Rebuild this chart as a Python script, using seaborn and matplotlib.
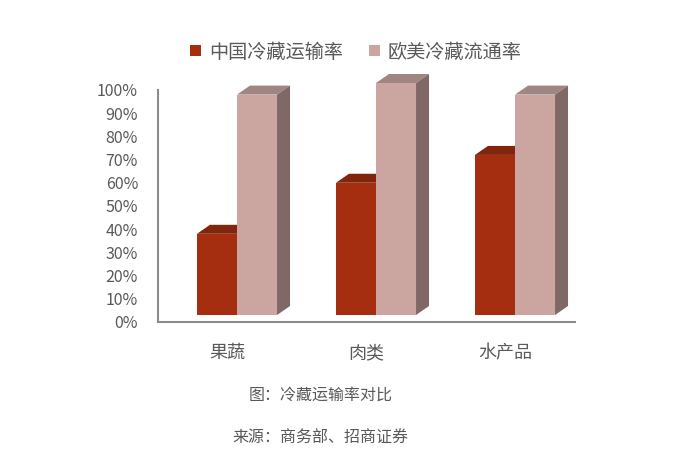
import matplotlib
matplotlib.use('Agg')
import matplotlib.pyplot as plt
import matplotlib.transforms as mtransforms
from matplotlib.patches import Polygon, Patch
import numpy as np
import pandas as pd
import seaborn as sns

categories = ['果蔬', '肉类', '水产品']
series_names = ['中国冷藏运输率', '欧美冷藏流通率']
china_rate = [0.35, 0.57, 0.69]
west_rate = [0.95, 1.00, 0.95]
y_ticks = [0, 0.1, 0.2, 0.3, 0.4, 0.5, 0.6, 0.7, 0.8, 0.9, 1.0]
y_tick_labels = ['0%', '10%', '20%', '30%', '40%', '50%', '60%', '70%', '80%', '90%', '100%']

front_colors = ['#A52E10', '#CBA6A0']
top_colors = ['#80260C', '#A08583']
side_colors = ['#6E1E0A', '#806866']
text_color = '#595959'
axis_color = '#8C8C8C'

df = pd.DataFrame({
    'cat': categories * 2,
    'series': [series_names[0]] * 3 + [series_names[1]] * 3,
    'value': china_rate + west_rate,
})

sns.set_style('white')
plt.rcParams['font.family'] = ['Noto Sans CJK SC', 'DejaVu Sans']

dpi = 100
fig = plt.figure(figsize=(6.76, 4.63), dpi=dpi)
ax = fig.add_axes([157.5 / 676, 141 / 463, 417 / 676, 232 / 463])

sns.barplot(data=df, x='cat', y='value', hue='series', order=categories,
            hue_order=series_names, palette=front_colors, saturation=1,
            width=0.576, dodge=True, legend=False, ax=ax, linewidth=0)

ax.set_xlim(-0.5, 2.5)
ax.set_ylim(0, 1)
ax.set_yticks(y_ticks)
ax.set_yticklabels(y_tick_labels)
ax.set_xlabel('')
ax.set_ylabel('')

# 3D look: front faces shifted, then top/side faces drawn behind them
shift_x, shift_y = 10, 7
depth_x, depth_y = 13, 9
bar_trans = mtransforms.offset_copy(ax.transData, fig=fig, x=shift_x, y=shift_y, units='dots')

bars = list(ax.patches)
for i, p in enumerate(bars):
    s = i // len(categories)
    p.set_transform(bar_trans)
    p.set_zorder(3)
    p.set_clip_on(False)
    x0, y0 = p.get_x(), p.get_y()
    x1, y1 = x0 + p.get_width(), y0 + p.get_height()
    (dx0, dy0), (dx1, dy1) = bar_trans.transform([(x0, y0), (x1, y1)])
    top = [(dx0, dy1), (dx1, dy1), (dx1 + depth_x, dy1 + depth_y), (dx0 + depth_x, dy1 + depth_y)]
    side = [(dx1, dy0), (dx1 + depth_x, dy0 + depth_y), (dx1 + depth_x, dy1 + depth_y), (dx1, dy1)]
    for pts, col in [(top, top_colors[s]), (side, side_colors[s])]:
        poly = Polygon(pts, closed=True, facecolor=col, edgecolor='none',
                       transform=mtransforms.IdentityTransform(), zorder=2, clip_on=False)
        ax.add_artist(poly)

for sp in ['top', 'right']:
    ax.spines[sp].set_visible(False)
for sp in ['left', 'bottom']:
    ax.spines[sp].set_color(axis_color)
    ax.spines[sp].set_linewidth(1.5)

ax.tick_params(axis='y', direction='in', length=4, width=1, color=axis_color,
               labelsize=11.5, labelcolor=text_color, pad=14)
ax.tick_params(axis='x', which='major', length=0, labelsize=13, labelcolor=text_color, pad=16)
ax.set_xticks([0.5, 1.5, 2.5], minor=True)
ax.tick_params(axis='x', which='minor', direction='in', length=5, width=1, color=axis_color)

handles = [Patch(facecolor=c, edgecolor='none') for c in front_colors]
fig.legend(handles, series_names, loc='center', bbox_to_anchor=(0.5 + 18 / 676, 1 - 52 / 463),
           ncol=2, frameon=False, fontsize=13.8, labelcolor=text_color,
           handlelength=0.55, handleheight=0.55, handletextpad=0.4, columnspacing=1.4)

fig.text(321 / 676, 1 - 395 / 463, '图：冷藏运输率对比', ha='center', va='center',
         fontsize=11.5, color=text_color)
fig.text(320 / 676, 1 - 438 / 463, '来源：商务部、招商证券', ha='center', va='center',
         fontsize=11.5, color=text_color)

fig.savefig('out.png', dpi=dpi)
